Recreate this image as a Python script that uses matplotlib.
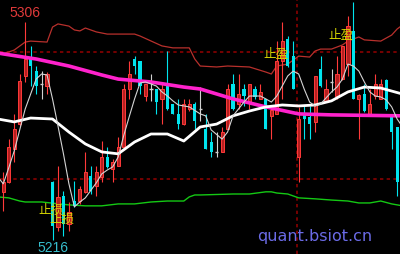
import matplotlib
matplotlib.use('Agg')
import matplotlib.pyplot as plt
import numpy as np

plt.rcParams['lines.scale_dashes'] = False

# ---- candle data (price) ----
opens = [5235.8, 5239.9, 5253.5, 5263.8, 5283.7, 5290.7, 5285.7, 5280.4, 5279.5, 5239.9,
         5221.3, 5234.1, 5222.5, 5232.0, 5232.0, 5235.8, 5242.4, 5238.2, 5242.0, 5250.2,
         5245.3, 5246.5, 5254.3, 5278.3, 5290.7, 5289.7, 5275.4, 5278.3, 5278.1, 5274.2,
         5279.5, 5271.9, 5268.0, 5263.8, 5270.0, 5272.1, 5270.0, 5261.8, 5256.4, 5252.3,
         5252.3, 5261.8, 5280.4, 5272.1, 5278.3, 5272.9, 5278.3, 5274.2, 5274.0, 5267.2,
         5268.0, 5289.9, 5299.0, 5291.9, 5250.2, 5268.0, 5266.7, 5264.7, 5286.6, 5273.4,
         5281.2, 5275.4, 5282.4, 5288.6, 5302.3, 5274.2, 5276.2, 5268.0, 5275.4, 5274.2,
         5282.2, 5267.0, 5262.4]
highs = [5244.0, 5257.6, 5268.0, 5284.5, 5306.0, 5296.1, 5287.8, 5285.7, 5285.3, 5240.3,
         5246.5, 5236.2, 5231.6, 5240.3, 5238.2, 5252.3, 5246.5, 5246.5, 5256.8, 5254.3,
         5249.4, 5258.5, 5280.4, 5289.9, 5291.9, 5289.9, 5280.4, 5284.5, 5278.3, 5280.4,
         5294.0, 5272.1, 5274.2, 5274.2, 5274.2, 5272.9, 5279.1, 5268.0, 5260.5, 5260.5,
         5262.6, 5280.4, 5284.5, 5284.5, 5280.4, 5280.4, 5279.5, 5280.4, 5274.2, 5270.0,
         5298.1, 5306.0, 5300.2, 5298.1, 5270.9, 5271.3, 5271.3, 5283.7, 5291.9, 5282.4,
         5286.6, 5291.9, 5296.1, 5308.5, 5314.3, 5276.2, 5280.4, 5278.3, 5284.5, 5282.4,
         5282.4, 5267.2, 5262.6]
lows = [5227.9, 5239.5, 5248.1, 5263.0, 5281.2, 5279.5, 5276.2, 5274.2, 5276.2, 5216.0,
        5219.6, 5217.6, 5219.6, 5229.6, 5230.8, 5235.5, 5234.9, 5234.1, 5239.9, 5245.8,
        5239.9, 5246.3, 5254.0, 5274.2, 5284.5, 5276.2, 5273.4, 5273.4, 5268.0, 5263.8,
        5269.8, 5267.8, 5261.8, 5263.6, 5269.2, 5261.8, 5265.1, 5253.3, 5250.2, 5250.2,
        5252.1, 5261.6, 5269.8, 5270.0, 5271.3, 5270.0, 5274.2, 5274.0, 5261.6, 5257.6,
        5267.8, 5274.2, 5287.6, 5278.1, 5239.9, 5257.6, 5257.6, 5260.5, 5279.3, 5272.9,
        5277.1, 5274.2, 5282.2, 5283.7, 5274.0, 5257.6, 5268.8, 5267.8, 5274.2, 5274.0,
        5269.8, 5253.5, 5234.1]
closes = [5239.9, 5254.3, 5261.8, 5281.6, 5290.7, 5287.8, 5279.5, 5280.4, 5284.5, 5221.7,
          5233.7, 5222.5, 5227.5, 5230.0, 5237.0, 5244.0, 5236.2, 5244.0, 5250.2, 5246.1,
          5248.1, 5254.3, 5278.3, 5284.5, 5287.8, 5279.5, 5280.2, 5278.3, 5272.9, 5278.3,
          5270.0, 5268.0, 5263.8, 5272.1, 5272.1, 5265.1, 5270.0, 5253.5, 5252.3, 5252.3,
          5260.5, 5278.3, 5270.0, 5276.2, 5275.4, 5280.2, 5275.0, 5277.1, 5261.8, 5269.8,
          5289.9, 5298.1, 5287.8, 5278.3, 5265.9, 5265.9, 5263.8, 5283.5, 5279.5, 5278.3,
          5281.2, 5284.5, 5295.9, 5304.3, 5274.2, 5276.0, 5269.2, 5272.1, 5280.4, 5280.4,
          5270.0, 5260.5, 5239.9]

# ---- indicator lines (bar index -> price) ----
slow_ma_idx = [-1, 0, 6, 12, 18, 21, 27, 33, 36, 42, 48, 54, 60, 73]
slow_ma = [5293.2, 5292.8, 5290.7, 5287.8, 5284.1, 5282.4, 5281.2, 5279.1, 5278.3, 5274.2,
           5270.9, 5268.0, 5267.6, 5267.2]

mid_ma_idx = [-1, 2, 5, 9, 12, 15, 18, 21, 24, 27, 30, 33, 36, 39, 42, 45, 48, 51, 54, 57,
              60, 63, 66, 69, 73]
mid_ma = [5265.9, 5264.7, 5266.3, 5265.9, 5260.5, 5255.6, 5252.3, 5251.5, 5256.4, 5259.7,
          5259.7, 5256.8, 5262.6, 5263.8, 5267.2, 5269.2, 5270.9, 5271.7, 5271.3, 5271.7,
          5273.4, 5277.1, 5279.1, 5278.7, 5276.2]

fast_ma_idx = [-1, 0, 1, 2, 4, 5, 6, 7, 8, 9, 10, 11, 12, 13, 14, 15, 17, 18, 19, 20, 21, 22,
               23, 24, 25, 26, 27, 28, 29, 30, 31, 32, 34, 36, 37, 38, 40, 41, 42, 44, 45, 47,
               48, 49, 50, 52, 53, 54, 55, 56, 57, 58, 60, 61, 62, 63, 64, 65, 66, 67, 68, 69,
               70, 71, 72, 73]
fast_ma = [5242.0, 5239.1, 5245.7, 5252.7, 5270.0, 5276.2, 5282.4, 5284.5, 5284.1, 5274.2,
           5263.0, 5251.5, 5239.1, 5229.6, 5231.6, 5233.3, 5239.5, 5243.2, 5244.8, 5246.1,
           5250.2, 5258.9, 5266.7, 5274.2, 5280.8, 5281.2, 5280.4, 5279.5, 5277.1, 5275.4,
           5273.4, 5271.7, 5270.9, 5268.0, 5267.2, 5261.4, 5257.6, 5260.5, 5267.2, 5272.9,
           5275.4, 5275.4, 5274.2, 5272.9, 5275.4, 5283.7, 5285.7, 5284.5, 5278.3, 5272.9,
           5271.3, 5272.1, 5277.1, 5279.1, 5282.4, 5288.6, 5287.8, 5285.7, 5281.2, 5277.1,
           5275.4, 5275.0, 5273.8, 5270.9, 5265.9, 5262.6]

upper_idx = [-1, 1, 2, 4, 5, 8, 9, 10, 12, 13, 14, 15, 17, 19, 24, 25, 29, 31, 34, 35, 36,
             39, 41, 45, 48, 49, 50, 52, 54, 56, 57, 58, 60, 62, 63, 65, 66, 69, 71, 72, 73]
upper_band = [5292.4, 5293.6, 5294.4, 5297.7, 5298.1, 5297.7, 5303.9, 5305.2, 5304.3, 5302.7,
              5302.3, 5303.5, 5301.9, 5301.0, 5301.0, 5300.2, 5296.1, 5295.3, 5295.3, 5290.7,
              5287.8, 5287.4, 5287.8, 5287.4, 5285.3, 5284.5, 5287.8, 5288.6, 5291.9, 5291.5,
              5294.0, 5294.8, 5294.8, 5296.5, 5298.1, 5299.8, 5298.6, 5298.1, 5300.6, 5303.1,
              5304.8]

lower_idx = [-1, 1, 3, 4, 7, 12, 15, 18, 21, 24, 27, 30, 33, 34, 35, 36, 42, 45, 48, 49, 50,
             52, 53, 54, 57, 60, 63, 65, 67, 69, 71, 73]
lower_band = [5233.7, 5233.3, 5232.0, 5231.6, 5231.6, 5230.4, 5230.0, 5230.0, 5230.8, 5230.8,
              5231.6, 5232.0, 5232.0, 5233.7, 5234.5, 5234.5, 5234.9, 5234.9, 5235.8, 5235.8,
              5235.3, 5234.9, 5234.1, 5233.3, 5232.9, 5232.4, 5232.0, 5231.2, 5231.2, 5232.0,
              5230.8, 5230.0]

level_lines = [5293.6, 5241.1]
marker_bar = 53.7

high_label = (4, '5306')
low_label = (9, '5216')
stop_loss_marks = [(8.7, 5228.7), (10.8, 5224.6)]
take_profit_marks = [(49.8, 5292.8), (61.7, 5301.0)]
watermark = 'quant.bsiot.cn'

# ---- figure ----
fig = plt.figure(figsize=(4, 2.55), dpi=100)
fig.patch.set_facecolor('black')
ax = fig.add_axes([0, 0, 1, 1])
ax.set_facecolor('black')
ax.set_xlim(-0.6, 72.52)
ax.set_ylim(5210.1, 5315.5)
ax.axis('off')

o = np.array(opens); h = np.array(highs); l = np.array(lows); c = np.array(closes)
x = np.arange(len(o))
up = c > o
dn = c < o
dj = c == o

RED_EDGE = '#ff3a3a'
RED_FILL = '#b42020'
CYAN = '#00e4ee'
DOJI = '#d0d0d0'

# dashed levels
for lv in level_lines:
    ax.axhline(lv, color='#8a0000', lw=1.2, dashes=(2.4, 2.4), zorder=1)
ax.axvline(marker_bar, color='#8a0000', lw=1.2, dashes=(2.4, 2.4), zorder=1)

# bands
ax.plot(upper_idx, upper_band, color='#b8302c', lw=0.9, zorder=2)
ax.plot(lower_idx, lower_band, color='#14c814', lw=1.0, zorder=2)

# wicks
ax.vlines(x[up], l[up], h[up], color=RED_EDGE, lw=0.8, zorder=3)
ax.vlines(x[dn], l[dn], h[dn], color=CYAN, lw=0.8, zorder=3)
ax.vlines(x[dj], l[dj], h[dj], color=DOJI, lw=0.8, zorder=3)
# bodies
ax.bar(x[up], (c - o)[up], bottom=o[up], width=0.58, facecolor=RED_FILL,
       edgecolor=RED_EDGE, lw=0.7, zorder=4)
ax.bar(x[dn], (o - c)[dn], bottom=c[dn], width=0.58, color=CYAN, lw=0, zorder=4)
ax.hlines(o[dj], x[dj] - 0.3, x[dj] + 0.3, color=DOJI, lw=1.0, zorder=4)

# moving averages
ax.plot(slow_ma_idx, slow_ma, color='#ff22cc', lw=2.6, zorder=5, solid_capstyle='butt')
ax.plot(mid_ma_idx, mid_ma, color='white', lw=2.0, zorder=5)
ax.plot(fast_ma_idx, fast_ma, color='#d4d4d4', lw=0.8, zorder=6)

# labels
bi, txt = high_label
ax.annotate(txt, xy=(bi, highs[bi]), xytext=(0, 2), textcoords='offset points',
            ha='center', va='bottom', color='#e03a3a', fontsize=10,
            family='Liberation Sans', zorder=7)
bi, txt = low_label
ax.annotate(txt, xy=(bi, lows[bi]), xytext=(0, -0.5), textcoords='offset points',
            ha='center', va='top', color='#36bccc', fontsize=10,
            family='Liberation Sans', zorder=7)

cjk = ['Noto Sans CJK SC', 'DejaVu Sans']
for bx, py in stop_loss_marks:
    ax.text(bx, py, '止损', ha='center', va='center', color='#d8d800', fontsize=9,
            family=cjk, zorder=8)
for bx, py in take_profit_marks:
    ax.text(bx, py, '止盈', ha='center', va='center', color='#d8d800', fontsize=9,
            family=cjk, zorder=8)

fig.text(0.7875, 0.074, watermark, ha='center', va='center', fontsize=11.5,
         color='#6b6be6', family='DejaVu Sans')

fig.savefig('out.png', dpi=100, facecolor='black')
